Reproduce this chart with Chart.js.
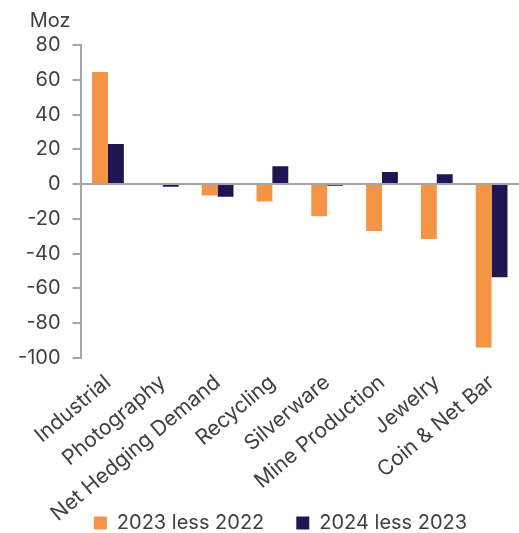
<!DOCTYPE html>
<html>
<head>
<meta charset="utf-8">
<script src="https://cdn.jsdelivr.net/npm/chart.js@4"></script>
<style>
  body { margin: 0; background: #fff; }
  #wrap { width: 519px; height: 533px; }
</style>
</head>
<body>
<div id="wrap"><canvas id="myChart" width="519" height="533"></canvas></div>
<script>
const categories = ['Industrial', 'Photography', 'Net Hedging Demand', 'Recycling', 'Silverware', 'Mine Production', 'Jewelry', 'Coin & Net Bar'];
const change2023 = [64.5, 0, -6.5, -10, -18.5, -27, -31.5, -94];
const change2024 = [23, -1.5, -7.3, 10.3, -1, 6.9, 5.6, -53.5];
const seriesNames = ['2023 less 2022', '2024 less 2023'];

const axisGrey = '#a6a6a6';
const textGrey = '#404040';
const font = "Inter, 'Liberation Sans', sans-serif";

// "Moz" unit label above the y axis
const unitLabel = {
    id: 'unitLabel',
    afterDraw(chart) {
        const y = chart.scales.y;
        const c = chart.ctx;
        c.save();
        c.font = '20px ' + font;
        c.fillStyle = textGrey;
        c.textAlign = 'right';
        c.textBaseline = 'alphabetic';
        c.fillText('Moz', y.right - 10, y.top - 18);
        c.restore();
    }
};

// nudge the legend to the right like the original
const legendShift = {
    id: 'legendShift',
    afterLayout(chart) {
        chart.legend.left += 18;
        chart.legend.right += 18;
    }
};

new Chart(document.getElementById('myChart').getContext('2d'), {
    type: 'bar',
    data: {
        labels: categories,
        datasets: [
            { label: seriesNames[0], data: change2023, backgroundColor: '#f39545', barPercentage: 1, categoryPercentage: 0.58 },
            { label: seriesNames[1], data: change2024, backgroundColor: '#201552', barPercentage: 1, categoryPercentage: 0.58 }
        ]
    },
    options: {
        responsive: false,
        animation: false,
        layout: { padding: { top: 45, right: 0, left: 6, bottom: -10 } },
        plugins: {
            legend: {
                position: 'bottom',
                labels: {
                    boxWidth: 13, boxHeight: 13, padding: 32,
                    color: textGrey,
                    font: { size: 20, family: font }
                }
            },
            tooltip: { enabled: false }
        },
        scales: {
            x: {
                grid: { display: false },
                border: { display: false },
                // the long labels hang down beside the legend, as in the original
                afterFit(scale) {
                    scale.height = 123;
                    scale._computeLabelArea = () => null;
                },
                ticks: {
                    minRotation: 40, maxRotation: 40,
                    color: textGrey,
                    padding: 4,
                    font: { size: 21, family: font }
                }
            },
            y: {
                min: -100, max: 80,
                border: { color: axisGrey, width: 2 },
                grid: {
                    color: (ctx) => ctx.tick && ctx.tick.value === 0 ? axisGrey : 'transparent',
                    lineWidth: 2,
                    tickColor: axisGrey,
                    tickLength: 8
                },
                ticks: {
                    stepSize: 20,
                    color: textGrey,
                    padding: 12,
                    font: { size: 20, family: font }
                }
            }
        }
    },
    plugins: [unitLabel, legendShift]
});
</script>
</body>
</html>
